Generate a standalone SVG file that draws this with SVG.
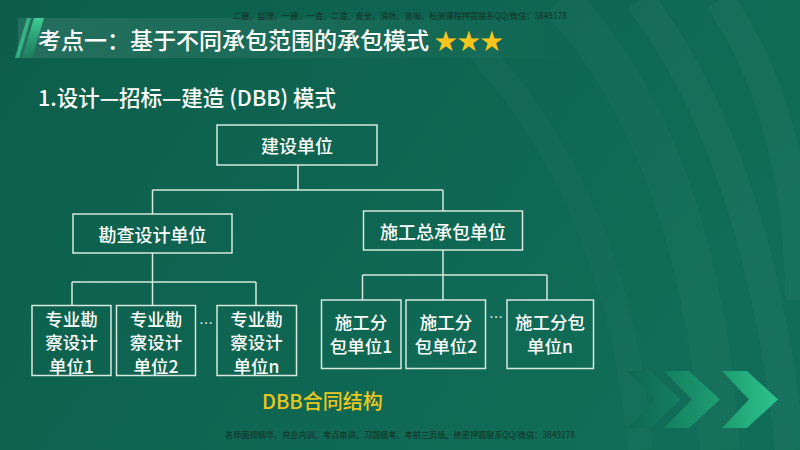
<svg xmlns="http://www.w3.org/2000/svg" width="800" height="450" viewBox="0 0 800 450">
  <defs>
    <linearGradient id="bg" x1="0" y1="0" x2="1" y2="0.4">
      <stop offset="0" stop-color="#0c5e4a"/>
      <stop offset="0.5" stop-color="#0e6551"/>
      <stop offset="1" stop-color="#116d57"/>
    </linearGradient>
    <linearGradient id="band" x1="0" y1="0" x2="1" y2="0">
      <stop offset="0" stop-color="#ffffff" stop-opacity="0.10"/>
      <stop offset="0.6" stop-color="#ffffff" stop-opacity="0.04"/>
      <stop offset="1" stop-color="#ffffff" stop-opacity="0"/>
    </linearGradient>
    <linearGradient id="slash" x1="0" y1="0" x2="0" y2="1">
      <stop offset="0" stop-color="#3fcf95"/>
      <stop offset="1" stop-color="#1d8f68" stop-opacity="0.5"/>
    </linearGradient>
    <linearGradient id="chev3" x1="0" y1="0" x2="1" y2="0">
      <stop offset="0" stop-color="#1d9c72"/>
      <stop offset="1" stop-color="#2ec48c"/>
    </linearGradient>
    <linearGradient id="chev2" x1="0" y1="0" x2="1" y2="0">
      <stop offset="0" stop-color="#13805f"/>
      <stop offset="1" stop-color="#1e9d73"/>
    </linearGradient>
    <linearGradient id="chev1" x1="0" y1="0" x2="1" y2="0">
      <stop offset="0" stop-color="#0e6852"/>
      <stop offset="1" stop-color="#157e61"/>
    </linearGradient>
    <style>
      .box { fill: none; stroke: #d6e8e0; stroke-width: 1.5; }
      .lbl { fill: #ffffff; font-family: "Noto Sans CJK SC", "Noto Sans", sans-serif; font-size: 18px; font-weight: 500; text-anchor: middle; dominant-baseline: central; }
      .sub { font-size: 17.5px; }
      .conn { fill: none; stroke: #d6e8e0; stroke-width: 1.5; }
      .wm { fill: #133a2f; font-family: "Noto Sans CJK SC", "Noto Sans", sans-serif; font-size: 8.5px; font-weight: 500; }
      .dots { fill: #ffffff; font-family: "Noto Sans CJK SC", "Noto Sans", sans-serif; font-size: 14px; text-anchor: middle; }
      .hd { fill: #ffffff; font-family: "Noto Sans CJK SC", "Noto Sans", sans-serif; font-weight: 500; }
    </style>
  </defs>

  <!-- background -->
  <rect x="0" y="0" width="800" height="450" fill="url(#bg)"/>
  <g fill="none" stroke="#ffffff">
    <path d="M 560 0 Q 700 150 720 450" stroke-width="40" stroke-opacity="0.025"/>
    <path d="M 640 0 Q 760 160 790 450" stroke-width="30" stroke-opacity="0.03"/>
    <path d="M 470 40 Q 620 200 640 450" stroke-width="25" stroke-opacity="0.02"/>
    <path d="M 720 0 Q 800 120 800 300" stroke-width="30" stroke-opacity="0.03"/>
  </g>

  <!-- header band -->
  <rect x="18" y="18" width="560" height="40" fill="url(#band)"/>
  <polygon points="27,18 31,18 19,58 15,58" fill="#3fcf95" opacity="0.7"/>
  <polygon points="34,18 44,18 32,58 22,58" fill="url(#slash)"/>

  <!-- watermarks -->
  <text class="wm" x="233" y="19" textLength="334" lengthAdjust="spacingAndGlyphs">二建、监理、一建、一造、二造、安全、消防、咨询、检测课程押题联系QQ/微信：3849178</text>
  <text class="wm" x="225" y="438" textLength="350" lengthAdjust="spacingAndGlyphs">名师面授精华、央企内训、考点串讲、习题模考、考前三页纸、绝密押题联系QQ/微信：3849178</text>

  <!-- title -->
  <text class="hd" x="38" y="49" font-size="23">考点一：基于不同承包范围的承包模式 <tspan fill="#f7c51b">★★★</tspan></text>
  <text class="hd" x="38" y="106" font-size="21.5">1.设计—招标—建造 (DBB) 模式</text>

  <!-- connectors -->
  <g id="connectors">
    <path class="conn" d="M 298 165 V 190 M 152.5 190 H 443 M 152.5 190 V 214 M 443 190 V 211"/>
    <path class="conn" d="M 152.5 253 V 282 M 72 282 H 256 M 72 282 V 305.5 M 152.5 282 V 305.5 M 256 282 V 305.5"/>
    <path class="conn" d="M 443 250 V 275 M 362.5 275 H 547 M 362.5 275 V 300 M 443 275 V 300 M 547 275 V 300"/>
  </g>

  <!-- nodes -->
  <g id="n-owner">
    <rect class="box" x="217" y="125" width="160" height="40"/>
    <text class="lbl" x="297" y="145">建设单位</text>
  </g>
  <g id="n-design">
    <rect class="box" x="73" y="214" width="159" height="39"/>
    <text class="lbl" x="152.5" y="233.5">勘查设计单位</text>
  </g>
  <g id="n-gc">
    <rect class="box" x="363.5" y="211" width="159" height="39"/>
    <text class="lbl" x="443" y="230.5">施工总承包单位</text>
  </g>

  <g id="n-d1">
    <rect class="box" x="32" y="305.5" width="79" height="70"/>
    <text class="lbl sub" x="71.5" y="318">专业勘</text>
    <text class="lbl sub" x="71.5" y="341.5">察设计</text>
    <text class="lbl sub" x="71.5" y="365">单位1</text>
  </g>
  <g id="n-d2">
    <rect class="box" x="116.5" y="305.5" width="79" height="70"/>
    <text class="lbl sub" x="156" y="318">专业勘</text>
    <text class="lbl sub" x="156" y="341.5">察设计</text>
    <text class="lbl sub" x="156" y="365">单位2</text>
  </g>
  <text class="dots" x="206" y="328">…</text>
  <g id="n-dn">
    <rect class="box" x="217" y="305.5" width="79.5" height="70"/>
    <text class="lbl sub" x="256.5" y="318">专业勘</text>
    <text class="lbl sub" x="256.5" y="341.5">察设计</text>
    <text class="lbl sub" x="256.5" y="365">单位n</text>
  </g>

  <g id="n-s1">
    <rect class="box" x="321.5" y="300" width="79.5" height="68.5"/>
    <text class="lbl sub" x="361" y="321.5">施工分</text>
    <text class="lbl sub" x="361" y="345.5">包单位1</text>
  </g>
  <g id="n-s2">
    <rect class="box" x="406" y="300" width="79.5" height="68.5"/>
    <text class="lbl sub" x="446" y="321.5">施工分</text>
    <text class="lbl sub" x="446" y="345.5">包单位2</text>
  </g>
  <text class="dots" x="496" y="322">…</text>
  <g id="n-sn">
    <rect class="box" x="507" y="300" width="86.5" height="68.5"/>
    <text class="lbl sub" x="550" y="321.5">施工分包</text>
    <text class="lbl sub" x="550" y="345.5">单位n</text>
  </g>

  <!-- caption -->
  <text x="262" y="409" font-family="'Noto Sans CJK SC', 'Noto Sans', sans-serif" font-size="20" font-weight="500" fill="#e9c81c">DBB合同结构</text>

  <!-- chevrons -->
  <polygon points="627,371 650,371 680,399.5 650,428 627,428 655,399.5" fill="url(#chev1)"/>
  <polygon points="664,371 689,371 720,399.5 689,428 664,428 692,399.5" fill="url(#chev2)"/>
  <polygon points="722,371 747,371 778,399.5 747,428 722,428 749,399.5" fill="url(#chev3)"/>
</svg>
